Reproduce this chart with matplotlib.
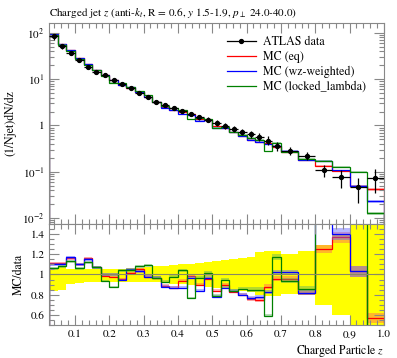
import matplotlib
matplotlib.use('Agg')
import matplotlib.pyplot as plt
from matplotlib.lines import Line2D
from matplotlib.ticker import FixedLocator, MultipleLocator, FuncFormatter, LogLocator, NullFormatter
import numpy as np

plt.rcParams['font.family'] = ['STIXGeneral', 'DejaVu Serif']
plt.rcParams['mathtext.fontset'] = 'stix'

# bin edges in z
edges = [0.025, 0.05, 0.075, 0.1, 0.125, 0.15, 0.175, 0.2, 0.225, 0.25, 0.275, 0.3,
         0.325, 0.35, 0.375, 0.4, 0.425, 0.45, 0.475, 0.5, 0.525, 0.55, 0.575, 0.6,
         0.625, 0.65, 0.675, 0.7, 0.75, 0.8, 0.85, 0.9, 0.95, 1.0]

# ATLAS data (1/Njet) dN/dz
data = [86, 52, 36.4, 26, 18.4, 14.6, 12.2, 9.6, 7.9, 6.5, 5.1, 4.2, 3.27, 2.77, 2.43,
        2.05, 1.75, 1.51, 1.34, 1.14, 0.99, 0.85, 0.73, 0.64, 0.573, 0.47, 0.36,
        0.281, 0.222, 0.109, 0.076, 0.0475, 0.074]
data_err_up = [0.06, 0.08, 0.05, 0.05, 0.05, 0.05, 0.05, 0.05, 0.05, 0.06, 0.06, 0.07,
               0.08, 0.08, 0.09, 0.10, 0.10, 0.11, 0.12, 0.13, 0.14, 0.15, 0.16, 0.17,
               0.22, 0.23, 0.23, 0.20, 0.23, 0.29, 0.40, 0.55, 0.55]
data_err_dn = [0.16, 0.15, 0.09, 0.08, 0.07, 0.07, 0.07, 0.07, 0.07, 0.07, 0.07, 0.07,
               0.07, 0.08, 0.09, 0.09, 0.10, 0.11, 0.12, 0.13, 0.14, 0.15, 0.16, 0.17,
               0.20, 0.21, 0.21, 0.19, 0.20, 0.30, 0.40, 0.55, 0.52]

# MC / data ratios
ratio_eq = [1.11, 1.11, 1.16, 1.10, 1.16, 1.07, 0.99, 0.98, 0.96, 1.01, 1.05, 0.98,
            0.97, 0.89, 0.87, 0.94, 0.99, 0.90, 0.96, 0.84, 0.90, 0.83, 0.80, 0.76,
            0.75, 0.88, 0.96, 0.96, 0.82, 1.25, 1.37, 1.03, 0.57]
ratio_wz = [1.10, 1.10, 1.17, 1.10, 1.15, 1.07, 1.00, 1.00, 0.95, 1.05, 1.03, 0.98,
            0.97, 0.88, 0.87, 0.87, 0.97, 0.84, 0.97, 0.78, 0.87, 0.84, 0.80, 0.77,
            0.78, 0.83, 1.02, 1.02, 0.82, 1.60, 1.40, 1.03, 0.31]
ratio_ll = [1.06, 1.08, 1.13, 1.06, 1.12, 1.07, 0.94, 0.88, 1.04, 1.04, 1.08, 1.09,
            0.97, 0.93, 0.98, 1.04, 0.77, 0.97, 1.01, 0.79, 0.95, 0.84, 0.86, 0.85,
            0.85, 0.59, 1.17, 0.94, 0.86, 1.60, 1.70, 2.10, 0.17]
mc_rel_err = [0.01, 0.01, 0.01, 0.01, 0.01, 0.01, 0.01, 0.01, 0.01, 0.01, 0.01, 0.015,
              0.015, 0.015, 0.015, 0.015, 0.015, 0.02, 0.02, 0.02, 0.02, 0.02, 0.02, 0.025,
              0.025, 0.025, 0.025, 0.025, 0.03, 0.03, 0.04, 0.05, 0.08]

edges = np.array(edges)
data = np.array(data)
centers = 0.5 * (edges[1:] + edges[:-1])
halfw = 0.5 * (edges[1:] - edges[:-1])
eup = np.array(data_err_up)
edn = np.array(data_err_dn)
mcerr = np.array(mc_rel_err)

mcs = [('MC (eq)', np.array(ratio_eq), '#ff0000', '#ff6060'),
       ('MC (wz-weighted)', np.array(ratio_wz), '#0000ff', '#6060ff'),
       ('MC (locked_lambda)', np.array(ratio_ll), '#008000', '#60b060')]

fig = plt.figure(figsize=(3.97, 3.58), dpi=100)
ax = fig.add_axes([0.124, 0.3743, 0.843, 0.5615])
rax = fig.add_axes([0.124, 0.0922, 0.843, 0.2821])

frame = '#888888'
for a in (ax, rax):
    for s in a.spines.values():
        s.set_color(frame)
        s.set_linewidth(0.8)
    a.tick_params(which='both', direction='in', top=True, right=True, color=frame,
                  labelsize=8, width=0.8)
    a.tick_params(which='major', length=7)
    a.tick_params(which='minor', length=3.5)
    a.set_xlim(0.025, 1.0)
    a.xaxis.set_major_locator(MultipleLocator(0.1))
    a.xaxis.set_minor_locator(MultipleLocator(0.02))

# main panel
for label, r, col, lcol in mcs:
    mc = data * r
    ax.stairs(mc * (1 + mcerr), edges, baseline=mc * (1 - mcerr), fill=True,
              color=lcol, alpha=0.45, lw=0)
    ax.stairs(mc, edges, color=col, lw=0.9)
ax.errorbar(centers, data, xerr=halfw, yerr=[data * edn, data * eup], fmt='o',
            color='black', ms=2.8, lw=0.9, capsize=0, zorder=5)
ax.set_yscale('log')
ax.set_ylim(10 ** -2.13, 10 ** 2.216)
ax.yaxis.set_major_locator(LogLocator(base=10, numticks=10))
ax.yaxis.set_minor_locator(LogLocator(base=10, subs=np.arange(2, 10), numticks=10))
ax.yaxis.set_minor_formatter(NullFormatter())


def logfmt(v, pos):
    e = int(round(np.log10(v)))
    if e == 0:
        return '1'
    return r'$10^{%d}$' % e


ax.yaxis.set_major_formatter(FuncFormatter(logfmt))
ax.tick_params(axis='x', labelbottom=False)
ax.set_ylabel('(1/Njet)dN/dz', fontsize=8.5, labelpad=4)
ax.set_title(r'Charged jet $z$ (anti-$k_t$, R = 0.6, $y$ 1.5-1.9, $p_\perp$ 24.0-40.0)',
             fontsize=8, loc='left', pad=5)

handles = [Line2D([], [], color='black', marker='o', ms=2.8, lw=0.9)]
labels = ['ATLAS data']
for label, r, col, lcol in mcs:
    handles.append(Line2D([], [], color=col, lw=0.9))
    labels.append(label)
ax.legend(handles, labels, loc='upper left', bbox_to_anchor=(0.531, 0.935), frameon=False,
          fontsize=8.6, handlelength=2.4, handletextpad=0.65, labelspacing=0.25,
          borderpad=0, borderaxespad=0)

# ratio panel
rax.stairs(1 + eup, edges, baseline=1 - edn, fill=True, color='#ffff00', lw=0)
rax.axhline(1.0, color='#888866', lw=0.8)
for label, r, col, lcol in mcs:
    rax.stairs(r * (1 + mcerr), edges, baseline=r * (1 - mcerr), fill=True,
               color=lcol, alpha=0.45, lw=0)
    rax.stairs(r, edges, color=col, lw=0.9)
rax.set_ylim(0.5, 1.5)
rax.yaxis.set_major_locator(FixedLocator([0.6, 0.8, 1.0, 1.2, 1.4]))
rax.yaxis.set_minor_locator(MultipleLocator(0.05))
rax.yaxis.set_major_formatter(FuncFormatter(lambda v, p: '%g' % v))
rax.xaxis.set_major_formatter(FuncFormatter(lambda v, p: '%.1f' % v))
rax.set_ylabel('MC/data', fontsize=8.5, labelpad=4)
rax.set_xlabel(r'Charged Particle $z$', fontsize=8.5, loc='right', labelpad=2)

fig.savefig('out.png', dpi=100)
